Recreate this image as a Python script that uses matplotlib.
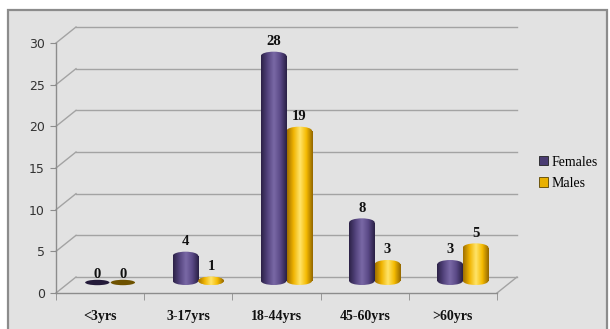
import numpy as np
import matplotlib
matplotlib.use("Agg")
import matplotlib.pyplot as plt
import matplotlib.transforms as mtransforms
from matplotlib.patches import Ellipse, Rectangle, Patch
from matplotlib.colors import LinearSegmentedColormap

# data
categories = ['<3yrs', '3-17yrs', '18-44yrs', '45-60yrs', '>60yrs']
females = [0, 4, 28, 8, 3]
males = [0, 1, 19, 3, 5]
yticks = [0, 5, 10, 15, 20, 25, 30]

DPI = 100
fig = plt.figure(figsize=(6.10, 3.29), dpi=DPI)
fig.patch.set_facecolor('white')

# outer chart frame
fig.patches.append(Rectangle((8 / 610, -0.02), 599 / 610, 1 - 10 / 329 + 0.02,
                             transform=fig.transFigure, facecolor='#e2e2e2',
                             edgecolor='#8c8c8c', lw=1.6, zorder=-5))

ax = fig.add_axes([56 / 610, 1 - 293 / 329, 441 / 610, 250 / 329])
ax.set_facecolor('none')
ax.set_xlim(-0.5, 4.5)
ax.set_ylim(0, 30)

# pixel -> data scale, for the fake 3d depth
px_x = 5 / 441
px_y = 30 / 250
dx, dy = 20 * px_x, 16 * px_y

grid_c = '#a3a3a3'
for v in yticks:
    ax.plot([-0.5, -0.5 + dx], [v, v + dy], color=grid_c, lw=1, clip_on=False, zorder=1)
    ax.plot([-0.5 + dx, 4.5 + dx], [v + dy, v + dy], color=grid_c, lw=1, clip_on=False, zorder=1)
ax.plot([4.5, 4.5 + dx], [0, dy], color=grid_c, lw=1, clip_on=False, zorder=1)

# bars sit in the middle of the depth
mid = mtransforms.offset_copy(ax.transData, fig=fig, x=10, y=8, units='dots')

cm_f = LinearSegmentedColormap.from_list('f', ['#2c2247', '#54447e', '#7a69a6', '#5a4986', '#2a2045'])
cm_m = LinearSegmentedColormap.from_list('m', ['#a07000', '#f0b400', '#ffe46a', '#f5bb00', '#946800'])
grad = np.linspace(0, 1, 64)[np.newaxis, :]


def shade(patch, x0, x1, y0, y1, cmap):
    im = ax.imshow(grad, extent=(x0, x1, y0, y1), aspect='auto', cmap=cmap,
                   interpolation='bilinear', zorder=patch.get_zorder() + 0.1)
    im.set_transform(mid)
    im.set_clip_path(patch)


w = 0.29
x = np.arange(len(categories))
cap = 1.0
for vals, off, cmap, dark in [(females, -w / 2, cm_f, '#241b3a'),
                              (males, w / 2, cm_m, '#6e5200')]:
    for xi, v in zip(x + off, vals):
        if v == 0:
            e = Ellipse((xi, 0.3), w * 0.95, 0.65, transform=mid, facecolor=dark,
                        edgecolor='none', zorder=3)
            ax.add_patch(e)
        else:
            lo, hi = cap / 2, v - cap / 2
            rect = ax.bar(xi, hi - lo, bottom=lo, width=w,
                          color='none', zorder=3)[0]
            rect.set_transform(mid)
            shade(rect, xi - w / 2, xi + w / 2, 0, v, cmap)
            for cy in (lo, hi):
                e = Ellipse((xi, cy), w, cap, transform=mid, facecolor='none',
                            edgecolor='none', zorder=3)
                ax.add_patch(e)
                shade(e, xi - w / 2, xi + w / 2, cy - cap, cy + cap, cmap)
        ax.text(xi, v + 0.45, str(v), transform=mid, ha='center', va='bottom',
                family='Liberation Serif', fontweight='bold', fontsize=10.5, color='#111')

ax.set_xlim(-0.5, 4.5)
ax.set_ylim(0, 30)

for s in ['top', 'right']:
    ax.spines[s].set_visible(False)
for s in ['left', 'bottom']:
    ax.spines[s].set_color('#8c8c8c')
    ax.spines[s].set_linewidth(1)

ax.set_yticks(yticks)
ax.set_yticklabels([str(t) for t in yticks], family='DejaVu Sans', fontsize=9, color='#333')
ax.tick_params(axis='y', length=4, color='#8c8c8c', pad=4)
ax.set_xticks(x)
ax.set_xticklabels(categories, family='Liberation Serif', fontweight='bold', fontsize=10, color='#111')
ax.set_xticks(np.arange(-0.5, 5, 1), minor=True)
ax.tick_params(axis='x', which='major', length=0, pad=12)
ax.tick_params(axis='x', which='minor', length=5, color='#8c8c8c')

handles = [Patch(facecolor='#4a3c72', edgecolor='#222', lw=0.6, label='Females'),
           Patch(facecolor='#e8b000', edgecolor='#5a4400', lw=0.6, label='Males')]
fig.legend(handles=handles, loc='center left', bbox_to_anchor=(0.883, 0.475),
           frameon=False, prop={'family': 'Liberation Serif', 'size': 10},
           handlelength=0.65, handleheight=0.65, handletextpad=0.25, labelspacing=0.6,
           borderaxespad=0, borderpad=0)

fig.savefig('out.png', dpi=DPI)
